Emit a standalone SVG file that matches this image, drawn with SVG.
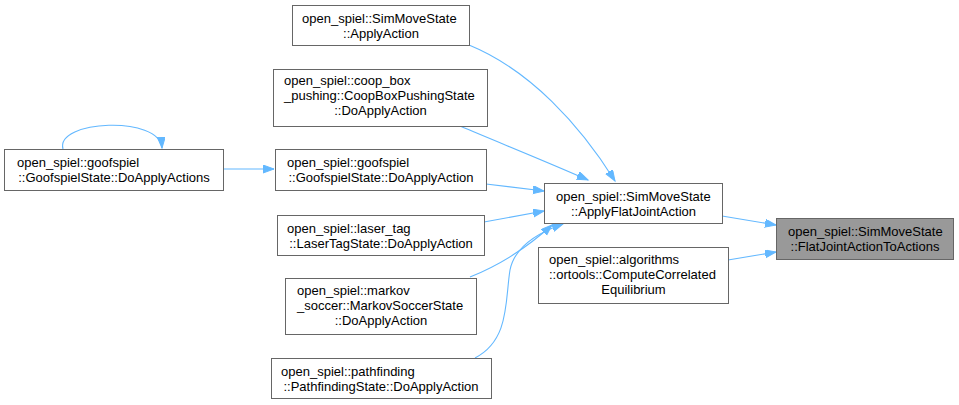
<svg xmlns="http://www.w3.org/2000/svg" width="959" height="405" viewBox="0 0 959 405">
<style>
.n rect{fill:#fff;stroke:#666;stroke-width:1}
.n.h rect{fill:#999}
text{font-family:"Liberation Sans",Arial,sans-serif;font-size:13px;fill:#000}
.c{text-anchor:middle}
.e path{fill:none;stroke:#63b8ff;stroke-width:1.1;marker-end:url(#ah)}
</style>
<defs>
<marker id="ah" markerUnits="userSpaceOnUse" markerWidth="13" markerHeight="10" refX="11" refY="4" orient="auto">
<path d="M0,0 L11,4 L0,8 z" fill="#63b8ff" stroke="#63b8ff" stroke-width="1"/>
</marker>
</defs>
<rect width="959" height="405" fill="#fff"/>
<g id="edges" class="e">
<path d="M469,45 C530,70 580,125 615,181"/>
<path d="M460,126 C500,143 550,163 588,180"/>
<path d="M486,184 L544,191"/>
<path d="M484,222 L544,211"/>
<path d="M470,277 C500,265 530,245 552,225"/>
<path d="M475,358 C510,340 505,300 510,270 C515,245 540,232 563,224"/>
<path d="M223,169 L274,169"/>
<path d="M63,149 C55,120 160,115 162,148"/>
<path d="M722,216 L776,225"/>
<path d="M728,260 L776,252"/>
</g>
<g id="n_doapplyactions" class="n"><rect x="4.5" y="149.5" width="219" height="41"/><text x="17" y="167">open_spiel::goofspiel</text><text class="c" x="114" y="182">::GoofspielState::DoApplyActions</text></g>
<g id="n_applyaction" class="n"><rect x="292.5" y="5.5" width="177" height="40"/><text x="302" y="23">open_spiel::SimMoveState</text><text class="c" x="381" y="38">::ApplyAction</text></g>
<g id="n_coop" class="n"><rect x="273.5" y="69.5" width="214" height="57"/><text x="284" y="85">open_spiel::coop_box</text><text x="284" y="100">_pushing::CoopBoxPushingState</text><text class="c" x="380.5" y="115">::DoApplyAction</text></g>
<g id="n_goofspiel" class="n"><rect x="275.5" y="149.5" width="211" height="41"/><text x="287" y="167">open_spiel::goofspiel</text><text class="c" x="381" y="182">::GoofspielState::DoApplyAction</text></g>
<g id="n_lasertag" class="n"><rect x="277.5" y="215.5" width="207" height="40"/><text x="287" y="233">open_spiel::laser_tag</text><text class="c" x="381" y="248">::LaserTagState::DoApplyAction</text></g>
<g id="n_markov" class="n"><rect x="285.5" y="278.5" width="191" height="56"/><text x="297" y="295">open_spiel::markov</text><text x="297" y="310">_soccer::MarkovSoccerState</text><text class="c" x="381" y="325">::DoApplyAction</text></g>
<g id="n_pathfinding" class="n"><rect x="271.5" y="358.5" width="220" height="40"/><text x="281" y="376">open_spiel::pathfinding</text><text class="c" x="381" y="391">::PathfindingState::DoApplyAction</text></g>
<g id="n_applyflat" class="n"><rect x="544.5" y="183.5" width="178" height="40"/><text x="556" y="201">open_spiel::SimMoveState</text><text class="c" x="633.5" y="216">::ApplyFlatJointAction</text></g>
<g id="n_compute" class="n"><rect x="538.5" y="247.5" width="190" height="56"/><text x="549" y="264">open_spiel::algorithms</text><text x="549" y="279">::ortools::ComputeCorrelated</text><text class="c" x="633.5" y="294">Equilibrium</text></g>
<g id="n_flat" class="n h"><rect x="776.5" y="218.5" width="177" height="41"/><text x="788" y="236">open_spiel::SimMoveState</text><text class="c" x="865" y="251">::FlatJointActionToActions</text></g>
</svg>
